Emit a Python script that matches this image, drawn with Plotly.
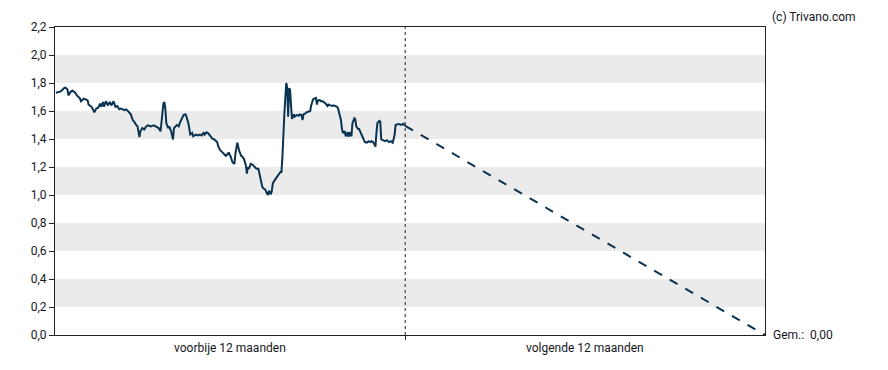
import plotly.graph_objects as go

# Past 12 months: days relative to today, and share price
days = [-364, -361, -359, -357, -356, -354, -352, -351, -349, -347, -344, -342, -339, -338, -335, -333,
        -331, -330, -327, -325, -324, -322, -320, -318, -317, -315, -314, -312, -310, -308, -306, -304,
        -302, -300, -298, -296, -293, -291, -289, -286, -284, -282, -281, -279, -277, -276, -274, -272,
        -270, -268, -265, -262, -260, -257, -255, -254, -252, -251, -250, -249, -247, -246, -244, -242,
        -241, -238, -236, -235, -233, -231, -229, -228, -226, -224, -222, -221, -218, -216, -214, -212,
        -210, -209, -207, -205, -203, -201, -199, -196, -195, -193, -191, -189, -187, -185, -184, -182,
        -180, -178, -177, -175, -173, -171, -170, -168, -166, -165, -164, -163, -161, -159, -157, -155,
        -153, -151, -149, -148, -146, -144, -143, -142, -140, -139, -138, -136, -134, -132, -130, -129,
        -128, -126, -125, -124, -123, -122, -121, -120, -119, -118, -116, -115, -113, -111, -110, -108,
        -107, -106, -104, -103, -101, -99, -98, -97, -96, -95, -93, -92, -91, -89, -88, -86, -84, -83,
        -81, -80, -78, -76, -75, -73, -71, -70, -69, -67, -66, -65, -63, -62, -60, -59, -58, -56, -55,
        -53, -52, -51, -49, -48, -47, -45, -43, -42, -40, -38, -36, -35, -33, -31, -30, -29, -27, -26,
        -25, -23, -21, -19, -17, -15, -13, -11, -10, -8, -6, -4, -2, 0]
price = [1.73, 1.734, 1.74, 1.753, 1.762, 1.767, 1.753, 1.711, 1.734, 1.746, 1.73, 1.71, 1.69, 1.67, 1.688, 1.683,
         1.676, 1.646, 1.63, 1.606, 1.59, 1.618, 1.623, 1.653, 1.63, 1.664, 1.63, 1.67, 1.64, 1.664, 1.64, 1.67,
         1.63, 1.636, 1.613, 1.618, 1.606, 1.611, 1.60, 1.576, 1.536, 1.52, 1.506, 1.49, 1.413, 1.455, 1.478, 1.467,
         1.49, 1.497, 1.49, 1.497, 1.49, 1.478, 1.455, 1.525, 1.653, 1.664, 1.618, 1.513, 1.478, 1.49, 1.455, 1.397,
         1.478, 1.50, 1.49, 1.513, 1.548, 1.571, 1.576, 1.56, 1.513, 1.432, 1.443, 1.42, 1.432, 1.425, 1.432, 1.425,
         1.448, 1.432, 1.448, 1.439, 1.42, 1.402, 1.397, 1.378, 1.35, 1.322, 1.308, 1.292, 1.28, 1.292, 1.304, 1.276,
         1.234, 1.222, 1.292, 1.374, 1.315, 1.28, 1.276, 1.257, 1.21, 1.152, 1.199, 1.187, 1.222, 1.215, 1.199, 1.187,
         1.187, 1.117, 1.06, 1.048, 1.04, 1.01, 1.00, 1.03, 1.005, 1.03, 1.083, 1.106, 1.125, 1.152, 1.164, 1.164,
         1.269, 1.571, 1.758, 1.80, 1.769, 1.56, 1.762, 1.753, 1.64, 1.543, 1.576, 1.56, 1.571, 1.566, 1.576, 1.571,
         1.536, 1.576, 1.583, 1.59, 1.595, 1.60, 1.64, 1.676, 1.683, 1.688, 1.693, 1.646, 1.676, 1.678, 1.67, 1.67, 1.66, 1.653,
         1.636, 1.646, 1.64, 1.636, 1.64, 1.632, 1.63, 1.618, 1.59, 1.536, 1.478, 1.443, 1.455, 1.42, 1.448, 1.415, 1.448, 1.42, 1.513,
         1.548, 1.541, 1.49, 1.471, 1.471, 1.455, 1.42, 1.392, 1.378, 1.374, 1.385, 1.378, 1.385, 1.374, 1.346, 1.443, 1.513, 1.53, 1.525,
         1.397, 1.392, 1.385, 1.392, 1.378, 1.385, 1.374, 1.432, 1.50, 1.506, 1.506, 1.50, 1.508, 1.494]

# Forecast (next 12 months) towards the average target
forecast_days = [0, 375]
forecast_price = [1.494, 0.0]

period_labels = ["voorbije 12 maanden", "volgende 12 maanden"]
period_centers = [-182.5, 187.5]
y_ticks = [0.0, 0.2, 0.4, 0.6, 0.8, 1.0, 1.2, 1.4, 1.6, 1.8, 2.0, 2.2]
band_ranges = [(0.2, 0.4), (0.6, 0.8), (1.0, 1.2), (1.4, 1.6), (1.8, 2.0)]
avg_label = "Gem.:  0,00"
avg_value = 0.0
credit = "(c) Trivano.com"

LINE = "#0a3352"
TXT = "#14161c"
FONT = "Roboto"
FS = 12

fig = go.Figure()
fig.add_trace(go.Scatter(x=days, y=price, mode="lines",
                         line=dict(color=LINE, width=2), hoverinfo="skip"))
fig.add_trace(go.Scatter(x=forecast_days, y=forecast_price, mode="lines",
                         line=dict(color=LINE, width=2, dash="dash"), hoverinfo="skip"))

shapes = []
for lo, hi in band_ranges:
    shapes.append(dict(type="rect", xref="paper", yref="y", x0=0, x1=1, y0=lo, y1=hi,
                       fillcolor="#ebebeb", line=dict(width=0), layer="below"))
shapes.append(dict(type="line", xref="x", yref="paper", x0=0, x1=0, y0=0, y1=1,
                   line=dict(color="#222", width=1, dash="dot")))

annotations = []
for lab, cx in zip(period_labels, period_centers):
    annotations.append(dict(x=cx, y=0, xref="x", yref="paper", text=lab, showarrow=False,
                            yanchor="top", yshift=-4, font=dict(family=FONT, size=FS, color=TXT)))
annotations.append(dict(x=1, y=avg_value, xref="paper", yref="y", text=avg_label, showarrow=False,
                        xanchor="left", xshift=6, font=dict(family=FONT, size=FS, color=TXT)))
annotations.append(dict(x=1, y=1, xref="paper", yref="paper", text=credit, showarrow=False,
                        xanchor="left", yanchor="bottom", xshift=5, yshift=1,
                        font=dict(family=FONT, size=FS, color=TXT)))

fig.update_layout(
    width=880, height=362,
    margin=dict(l=47, r=123, t=12, b=35),
    paper_bgcolor="white", plot_bgcolor="white",
    showlegend=False,
    shapes=shapes, annotations=annotations,
    font=dict(family=FONT, size=FS, color=TXT),
    xaxis=dict(range=[-365, 375], showgrid=False, zeroline=False,
               tickvals=[0], ticktext=[""], ticks="outside", ticklen=4, tickcolor="#222",
               showline=True, linecolor="#222", linewidth=1, mirror=True, fixedrange=True),
    yaxis=dict(range=[0, 2.2], showgrid=False, zeroline=False,
               tickvals=y_ticks, ticktext=[f"{v:.1f}".replace(".", ",") for v in y_ticks],
               ticks="outside", ticklen=5, tickcolor="#222",
               showline=True, linecolor="#222", linewidth=1, mirror=True, fixedrange=True),
)

fig.write_html("out.html")
